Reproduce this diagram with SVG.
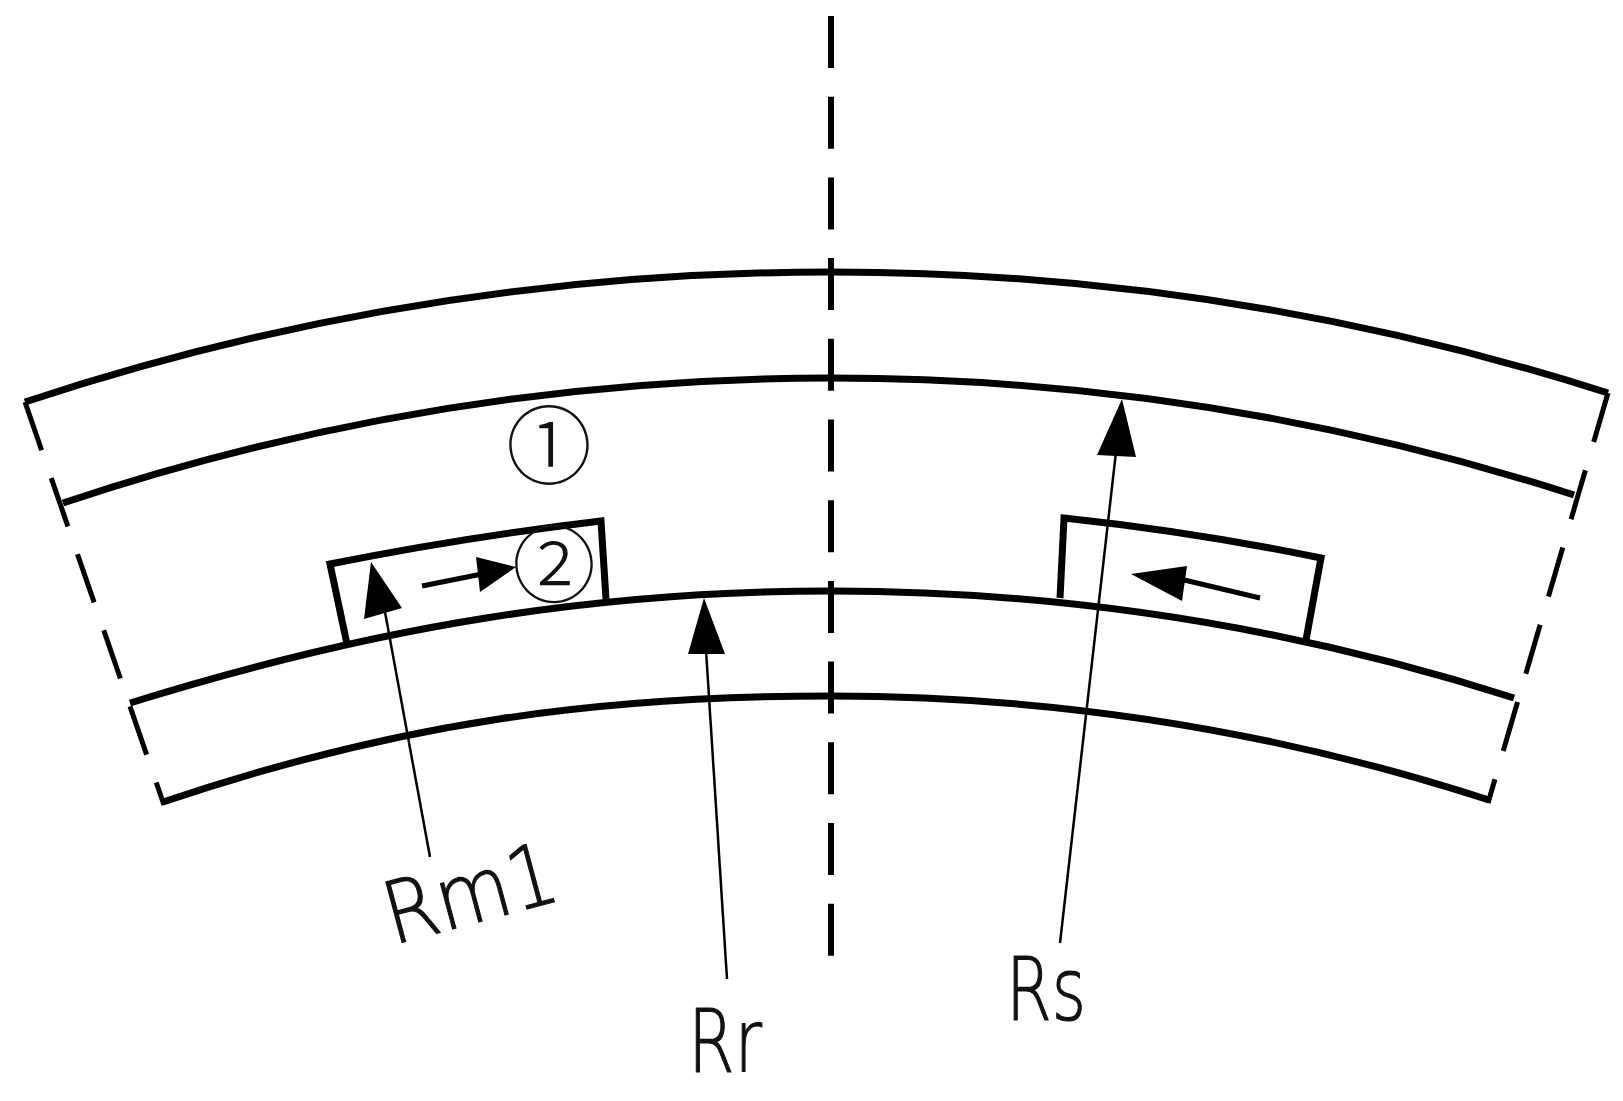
<svg xmlns="http://www.w3.org/2000/svg" width="1623" height="1101" viewBox="0 0 1623 1101">
<style>
.arc{fill:none;stroke:#000;stroke-width:7}
.dash{fill:none;stroke:#000;stroke-width:5;stroke-dasharray:51 29.5}
.axis{fill:none;stroke:#000;stroke-width:6;stroke-dasharray:52 28.7}
.lead{fill:none;stroke:#000;stroke-width:2.5}
.small{fill:none;stroke:#000;stroke-width:5}
.head{fill:#000}
.lbl{font-family:"DejaVu Sans","Liberation Sans",sans-serif;font-weight:200;fill:#111;stroke:#111;stroke-width:1.2}
.num{font-family:"Noto Sans CJK SC","DejaVu Sans",sans-serif;font-weight:300;fill:#111;text-anchor:middle}
</style>
<rect width="1623" height="1101" fill="#fff"/>
<g id="stator">
<path class="arc" d="M25 402A2564 2564 0 0 1 831 272A2555 2555 0 0 1 1608 393"/>
<path class="arc" d="M63 503A2422 2422 0 0 1 831 378A2418 2418 0 0 1 1574 495"/>
</g>
<g id="rotor">
<path class="arc" d="M130 703C380 625 600 591 831 591A2233 2233 0 0 1 1514 698"/>
<path class="arc" d="M163 802C400 722 600 696 831 696A2134 2134 0 0 1 1489 800"/>
</g>
<g id="magnet-left">
<path class="arc" d="M347 644L330 564Q465 537 601 521L606 599"/>
</g>
<g id="magnet-right">
<path class="arc" d="M1060 598L1064 518Q1195 532 1321 558L1306 640"/>
</g>
<g id="connectors">
<path class="axis" d="M831 16V960"/>
<path class="dash" d="M25 402L164 805"/>
<path class="dash" d="M1608 393L1488 803"/>
<path class="lead" d="M430 857L385 612"/>
<path class="head" d="M371 562L402 608L364 619Z"/>
<path class="lead" d="M727 979L706 650"/>
<path class="head" d="M704 598L725 654L688 654Z"/>
<path class="lead" d="M1060 943L1116 452"/>
<path class="head" d="M1122 399L1136 457L1097 455Z"/>
<path class="small" d="M422 586L482 574"/>
<path class="head" d="M516 567L480 592L476 557Z"/>
<path class="small" d="M1260 598L1180 579"/>
<path class="head" d="M1131 574L1187 566L1182 601Z"/>
</g>
<g id="marker-1"><text class="num" x="549" y="478" font-size="86">①</text></g>
<g id="marker-2"><text class="num" x="554" y="596" font-size="84">②</text></g>
<g id="label-rm1"><text class="lbl" transform="translate(393 945) rotate(-15)" font-size="86" textLength="176" lengthAdjust="spacingAndGlyphs">Rm1</text></g>
<g id="label-rr"><text class="lbl" x="688" y="1072" font-size="88" textLength="74" lengthAdjust="spacingAndGlyphs">Rr</text></g>
<g id="label-rs"><text class="lbl" x="1006" y="1020" font-size="88" textLength="80" lengthAdjust="spacingAndGlyphs">Rs</text></g>
</svg>
